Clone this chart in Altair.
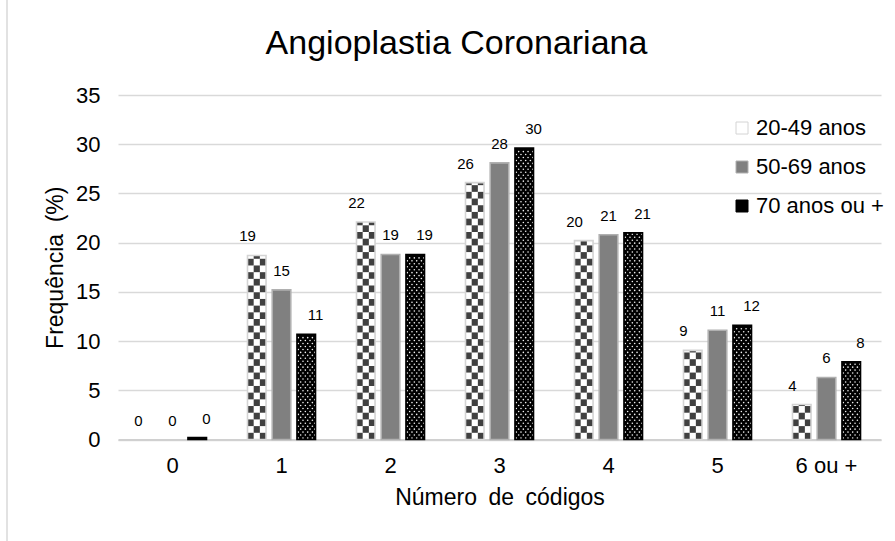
import math

import altair as alt
import pandas as pd

# Share of procedures (%) by number of codes, per age group
categories = ["0", "1", "2", "3", "4", "5", "6 ou +"]
series = ["20-49 anos", "50-69 anos", "70 anos ou +"]
pct_20_49 = [0.0, 18.7, 22.1, 26.1, 20.2, 9.05, 3.55]
pct_50_69 = [0.0, 15.2, 18.8, 28.1, 20.8, 11.1, 6.3]
pct_70_plus = [0.2, 10.7, 18.8, 29.6, 21.0, 11.6, 7.9]

y_ticks = [0, 5, 10, 15, 20, 25, 30, 35]

FONT = "Liberation Sans"
WIDE = "\u2002"  # wider word gap used in the axis titles

bars = pd.DataFrame(
    [
        {"cat": c, "serie": s, "pct": v}
        for s, vals in zip(series, [pct_20_49, pct_50_69, pct_70_plus])
        for c, v in zip(categories, vals)
    ]
)

# Checkerboard fill for the first age group: the group band is split into
# 11 equal slots, the first bar covers slots 0-2 (one slot per column).
CHECK_SLOTS = [str(i) for i in range(11)]
CHECK_H = 0.68
check_rows = []
for c, v in zip(categories, pct_20_49):
    for r in range(math.ceil(v / CHECK_H)):
        for col in range(3):
            if (r + col) % 2 == 0:
                check_rows.append(
                    {"cat": c, "slot": str(col), "y0": r * CHECK_H,
                     "y1": min((r + 1) * CHECK_H, v)}
                )
checks = pd.DataFrame(check_rows)

# Dotted fill for the oldest group: 88 slots per band, its bar covers 64-87.
DOT_SLOTS = [str(i) for i in range(88)]
DOT_STEP = 0.3
dot_rows = []
for c, v in zip(categories, pct_70_plus):
    r = 0
    while (r + 0.5) * DOT_STEP < v - 0.1:
        shift = 3 if r % 2 else 0
        for k in range(4):
            dot_rows.append({"cat": c, "slot": str(65 + shift + 6 * k),
                             "y": (r + 0.5) * DOT_STEP})
        r += 1
dots = pd.DataFrame(dot_rows)

x_scale = alt.Scale(domain=categories, paddingInner=0.376, paddingOuter=0.188)
x_axis = alt.Axis(
    title=f"Número{WIDE}de{WIDE}códigos", labelAngle=0, ticks=False, grid=False,
    domainColor="#d0d0d0", domainWidth=2, labelFontSize=22, labelPadding=16,
    labelColor="black", labelFont=FONT, titleFont=FONT, titleFontSize=23,
    titleFontWeight="normal", titleColor="black", titlePadding=10,
)
x_enc = alt.X("cat:N", sort=categories, scale=x_scale, axis=x_axis)

y_scale = alt.Scale(domain=[0, 35], nice=False)
y_axis = alt.Axis(
    title=f"Frequência{WIDE}(%)", values=y_ticks, ticks=False, domain=False,
    gridColor="#d9d9d9", gridWidth=1.3, labelFontSize=22, labelPadding=18,
    labelColor="black", labelFont=FONT, titleFont=FONT, titleFontSize=23,
    titleFontWeight="normal", titleColor="black", titlePadding=8,
)

offset_series = alt.XOffset(
    "serie:N", sort=series,
    scale=alt.Scale(domain=series, paddingInner=0.25, paddingOuter=0),
)

base = alt.Chart(bars).mark_bar().encode(
    x=x_enc,
    xOffset=offset_series,
    y=alt.Y("pct:Q", scale=y_scale, axis=y_axis),
    fill=alt.Fill(
        "serie:N", sort=series,
        scale=alt.Scale(domain=series, range=["#ffffff", "#808080", "#000000"]),
        legend=alt.Legend(
            title=None, orient="none", legendX=613, legendY=22, padding=0,
            symbolType="square", symbolSize=144, symbolStrokeColor="#a6a6a6",
            symbolStrokeWidth=1, labelFontSize=22, labelFont=FONT,
            labelColor="black", labelOffset=3, rowPadding=17,
        ),
    ),
)

check_layer = alt.Chart(checks).mark_rect(color="#404040").encode(
    x=x_enc,
    xOffset=alt.XOffset(
        "slot:N", scale=alt.Scale(domain=CHECK_SLOTS, paddingInner=0, paddingOuter=0)
    ),
    y=alt.Y("y0:Q", scale=y_scale, axis=y_axis),
    y2="y1:Q",
)

dot_layer = alt.Chart(dots).mark_circle(color="#f2f2f2", size=2.5, opacity=1).encode(
    x=x_enc,
    xOffset=alt.XOffset(
        "slot:N", scale=alt.Scale(domain=DOT_SLOTS, paddingInner=0, paddingOuter=0)
    ),
    y=alt.Y("y:Q", scale=y_scale, axis=y_axis),
)

# bar borders, skipped for empty bars
outline = alt.Chart(bars).transform_filter("datum.pct > 0").mark_bar(
    fillOpacity=0, strokeWidth=1.6
).encode(
    x=x_enc,
    xOffset=offset_series,
    y=alt.Y("pct:Q", scale=y_scale, axis=y_axis),
    stroke=alt.Stroke(
        "serie:N", sort=series,
        scale=alt.Scale(domain=series, range=["#d4d4d4", "#b0b0b0", "#000000"]),
        legend=None,
    ),
)

labels = alt.Chart(bars).mark_text(
    dy=-14, baseline="alphabetic", fontSize=15, font=FONT, color="black"
).encode(
    x=x_enc,
    xOffset=offset_series,
    y=alt.Y("pct:Q", scale=y_scale, axis=y_axis),
    text=alt.Text("pct:Q", format=".0f"),
)

# thin frame line along the left edge of the chart area
frame = alt.Chart(pd.DataFrame({"k": [0]})).mark_rule(
    color="#d9d9d9", strokeWidth=1.5
).encode(x=alt.value(-111), y=alt.value(-95), y2=alt.value(446))

chart = (
    alt.layer(base, check_layer, dot_layer, outline, labels, frame)
    .resolve_scale(xOffset="independent")
    .properties(
        width=763,
        height=344.5,
        autosize="none",
        padding={"left": 118, "top": 95, "right": 14, "bottom": 101.5},
        title=alt.Title(
            "Angioplastia Coronariana", font=FONT, fontSize=34,
            fontWeight="normal", color="black", anchor="middle", frame="group",
            dx=-43, offset=-62,
        ),
        background="white",
    )
    .configure_view(stroke=None)
)

chart.save("out.html", embed_options={"renderer": "svg", "actions": False})
